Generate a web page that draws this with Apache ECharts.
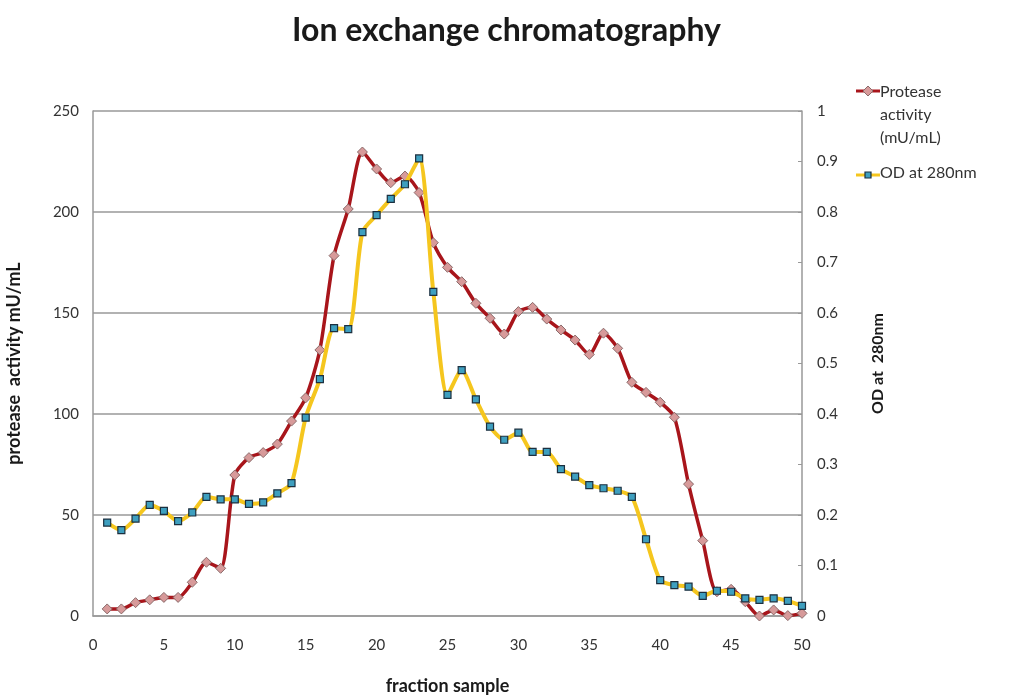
<!DOCTYPE html>
<html>
<head>
<meta charset="utf-8">
<script src="https://cdn.jsdelivr.net/npm/echarts@6/dist/echarts.min.js"></script>
<style>html,body{margin:0;padding:0;background:#fff;overflow:hidden;}#c{width:1013px;height:696px;}</style>
</head>
<body>
<div id="c"></div>
<script>
const titleText = 'Ion exchange chromatography';
const xName = 'fraction sample';
const yLeftName = 'protease  activity mU/mL';
const yRightName = 'OD at  280nm';
const seriesNames = ['Protease activity (mU/mL)', 'OD at 280nm'];
const fractions = [1,2,3,4,5,6,7,8,9,10,11,12,13,14,15,16,17,18,19,20,21,22,23,24,25,26,27,28,29,30,31,32,33,34,35,36,37,38,39,40,41,42,43,44,45,46,47,48,49,50];
const protease = [3.5,3.5,6.6,8,9.2,9.2,16.7,26.6,23.6,69.8,78.4,80.9,85.1,96.5,108,131.7,178.4,201.5,229.7,221.3,214.5,217.8,209.6,184.8,172.6,165.5,154.8,147.4,139.6,150.7,152.8,147,141.6,136.6,129.5,140,132.5,115.7,110.7,105.8,98.4,65.3,37.3,12,13.2,7.1,0,3,0.2,1.3];
const od = [0.185,0.170,0.193,0.220,0.208,0.188,0.205,0.236,0.231,0.231,0.222,0.225,0.243,0.263,0.393,0.469,0.570,0.568,0.760,0.794,0.826,0.855,0.906,0.642,0.438,0.487,0.429,0.375,0.349,0.363,0.325,0.325,0.291,0.276,0.259,0.253,0.248,0.236,0.152,0.071,0.061,0.058,0.040,0.050,0.048,0.035,0.032,0.035,0.030,0.020];

const FONT = 'Lato, "Open Sans", sans-serif';
const chart = echarts.init(document.getElementById('c'), null, {renderer: 'canvas', width: 1013, height: 696});
const gridLeft = 93, gridTop = 111, gridRight = 211, gridBottom = 80;

const option = {
  backgroundColor: '#ffffff',
  animation: false,
  title: {
    text: titleText, left: 'center', top: 10,
    textStyle: {fontFamily: FONT, fontSize: 32, fontWeight: 'bold', color: '#1a1a1a'}
  },
  grid: {left: gridLeft, top: gridTop, right: gridRight, bottom: gridBottom, containLabel: false, outerBoundsMode: 'none'},
  xAxis: {
    type: 'value', min: 0, max: 50, interval: 5,
    name: xName, nameLocation: 'middle', nameGap: 61,
    nameTextStyle: {fontFamily: FONT, fontSize: 18, fontWeight: 'bold', color: '#1a1a1a'},
    axisLine: {show: true, lineStyle: {color: '#999', width: 1.5}},
    axisTick: {show: false},
    axisLabel: {fontFamily: FONT, fontSize: 15, color: '#333', margin: 22},
    splitLine: {show: false}
  },
  yAxis: [{
    type: 'value', min: 0, max: 250, interval: 50, position: 'left',
    name: yLeftName, nameLocation: 'middle', nameGap: 70, nameRotate: 90,
    nameTextStyle: {fontFamily: FONT, fontSize: 18, fontWeight: 'bold', color: '#1a1a1a'},
    axisLine: {show: true, lineStyle: {color: '#999', width: 1.5}},
    axisTick: {show: false},
    axisLabel: {fontFamily: FONT, fontSize: 15, color: '#333', margin: 14},
    splitLine: {show: true, lineStyle: {color: '#999', width: 1.5}}
  }, {
    type: 'value', min: 0, max: 1, interval: 0.1, position: 'right',
    name: yRightName, nameLocation: 'middle', nameGap: 68, nameRotate: 90,
    nameTextStyle: {fontFamily: FONT, fontSize: 16, fontWeight: 'bold', color: '#1a1a1a'},
    axisLine: {show: true, lineStyle: {color: '#999', width: 1.5}},
    axisTick: {show: true, inside: true, length: 4, lineStyle: {color: '#999'}},
    axisLabel: {fontFamily: FONT, fontSize: 15, color: '#333', margin: 15,
      formatter: v => (Math.round(v * 10) / 10).toString()},
    splitLine: {show: false}
  }],
  series: [{
    name: seriesNames[0], type: 'line', yAxisIndex: 0, smooth: 0.25,
    data: fractions.map((f, i) => [f, protease[i]]),
    lineStyle: {color: '#A8151B', width: 3.5},
    symbol: 'diamond', symbolSize: 10,
    itemStyle: {color: '#D79A9A', borderColor: '#8a6a6a', borderWidth: 1},
    z: 2
  }, {
    name: seriesNames[1], type: 'line', yAxisIndex: 1, smooth: 0.25,
    data: fractions.map((f, i) => [f, od[i]]),
    lineStyle: {color: '#F5C61E', width: 4},
    symbol: 'rect', symbolSize: 7,
    itemStyle: {color: '#3E9FBF', borderColor: '#1b2f3f', borderWidth: 1.2},
    z: 3
  }],
  graphic: [
    {type: 'line', shape: {x1: 856, y1: 91, x2: 880, y2: 91}, style: {stroke: '#A8151B', lineWidth: 3}},
    {type: 'polygon', shape: {points: [[868, 86], [873, 91], [868, 96], [863, 91]]}, style: {fill: '#D79A9A', stroke: '#8a6a6a', lineWidth: 1}},
    {type: 'text', left: 880, top: 80, style: {text: 'Protease\nactivity\n(mU/mL)', fontFamily: FONT, fontSize: 16, lineHeight: 23, fill: '#333'}},
    {type: 'line', shape: {x1: 856, y1: 175, x2: 880, y2: 175}, style: {stroke: '#F5C61E', lineWidth: 3}},
    {type: 'rect', shape: {x: 865, y: 172, width: 6, height: 6}, style: {fill: '#3E9FBF', stroke: '#1b2f3f', lineWidth: 1.2}},
    {type: 'text', left: 880, top: 165, style: {text: 'OD at 280nm', fontFamily: FONT, fontSize: 16, fill: '#333'}}
  ]
};
chart.setOption(option);
</script>
</body>
</html>
